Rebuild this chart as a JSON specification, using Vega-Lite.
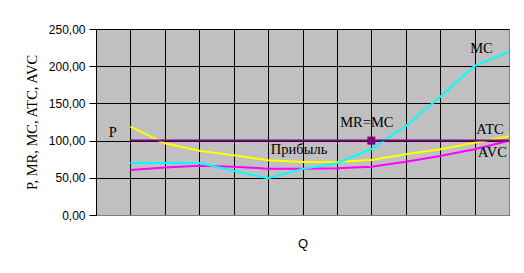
{
  "$schema": "https://vega.github.io/schema/vega-lite/v6.json",
  "width": 413,
  "height": 186,
  "autosize": "none",
  "padding": {"left": 96, "top": 29, "right": 15, "bottom": 58},
  "background": "white",
  "config": {
    "view": {"fill": "#C0C0C0", "stroke": "#808080", "strokeWidth": 1}
  },
  "datasets": {
    "curves": [
      {"q": 1, "series": "ATC", "value": 118.7}, {"q": 2, "series": "ATC", "value": 96.3}, {"q": 3, "series": "ATC", "value": 86.5}, {"q": 4, "series": "ATC", "value": 80.2}, {"q": 5, "series": "ATC", "value": 73.5}, {"q": 6, "series": "ATC", "value": 71.2}, {"q": 7, "series": "ATC", "value": 71.2}, {"q": 8, "series": "ATC", "value": 73.9}, {"q": 9, "series": "ATC", "value": 81.6}, {"q": 10, "series": "ATC", "value": 88.3}, {"q": 11, "series": "ATC", "value": 97.2}, {"q": 12, "series": "ATC", "value": 106},
      {"q": 1, "series": "AVC", "value": 60.5}, {"q": 2, "series": "AVC", "value": 64}, {"q": 3, "series": "AVC", "value": 66.3}, {"q": 4, "series": "AVC", "value": 65}, {"q": 5, "series": "AVC", "value": 62.2}, {"q": 6, "series": "AVC", "value": 62}, {"q": 7, "series": "AVC", "value": 62.7}, {"q": 8, "series": "AVC", "value": 65}, {"q": 9, "series": "AVC", "value": 71.7}, {"q": 10, "series": "AVC", "value": 79.3}, {"q": 11, "series": "AVC", "value": 88.3}, {"q": 12, "series": "AVC", "value": 100},
      {"q": 1, "series": "MC", "value": 70}, {"q": 2, "series": "MC", "value": 70}, {"q": 3, "series": "MC", "value": 70}, {"q": 4, "series": "MC", "value": 59.5}, {"q": 5, "series": "MC", "value": 49.3}, {"q": 6, "series": "MC", "value": 61.8}, {"q": 7, "series": "MC", "value": 69.5}, {"q": 8, "series": "MC", "value": 88.7}, {"q": 9, "series": "MC", "value": 119.6}, {"q": 10, "series": "MC", "value": 159}, {"q": 11, "series": "MC", "value": 200.3}, {"q": 12, "series": "MC", "value": 219.5},
      {"q": 1, "series": "P", "value": 100}, {"q": 2, "series": "P", "value": 100}, {"q": 3, "series": "P", "value": 100}, {"q": 4, "series": "P", "value": 100}, {"q": 5, "series": "P", "value": 100}, {"q": 6, "series": "P", "value": 100}, {"q": 7, "series": "P", "value": 100}, {"q": 8, "series": "P", "value": 100}, {"q": 9, "series": "P", "value": 100}, {"q": 10, "series": "P", "value": 100}, {"q": 11, "series": "P", "value": 100}, {"q": 12, "series": "P", "value": 100}
    ],
    "marker": [{"q": 8, "value": 100}],
    "labels": [
      {"text": "P", "q": 0.49, "value": 110.2},
      {"text": "Прибыль", "q": 5.9, "value": 87.4},
      {"text": "MR=MC", "q": 7.87, "value": 124},
      {"text": "MC", "q": 11.2, "value": 222.7},
      {"text": "ATC", "q": 11.45, "value": 114.2},
      {"text": "AVC", "q": 11.52, "value": 82.9}
    ]
  },
  "encoding": {
    "x": {
      "field": "q", "type": "quantitative",
      "scale": {"domain": [0, 12], "nice": false, "zero": false},
      "axis": {
        "title": "Q", "titleFont": "Liberation Sans", "titleFontSize": 13, "titleFontWeight": "normal", "titleColor": "black", "titlePadding": 22,
        "labels": false, "ticks": false, "domainColor": "#808080",
        "grid": true, "gridColor": "black", "gridOpacity": 1, "gridWidth": 1,
        "values": [1, 2, 3, 4, 5, 6, 7, 8, 9, 10, 11]
      }
    },
    "y": {
      "field": "value", "type": "quantitative",
      "scale": {"domain": [0, 250], "nice": false},
      "axis": {
        "title": "P, MR, MC, ATC, AVC", "titleFont": "Liberation Serif", "titleFontSize": 14.5, "titleFontWeight": "normal", "titleColor": "black",
        "titleX": -64, "titleY": 93, "titleBaseline": "middle", "titleAngle": -90,
        "values": [0, 50, 100, 150, 200, 250],
        "labelExpr": "replace(format(datum.value, '.2f'), '.', ',')",
        "labelFont": "Liberation Sans", "labelFontSize": 12, "labelColor": "black", "labelPadding": 4,
        "tickColor": "black", "tickSize": 7, "domainColor": "black",
        "grid": true, "gridColor": "black", "gridOpacity": 1, "gridWidth": 1
      }
    }
  },
  "layer": [
    {
      "data": {"name": "curves"},
      "mark": {"type": "line", "strokeWidth": 2, "clip": true},
      "encoding": {
        "color": {
          "field": "series", "type": "nominal",
          "scale": {"domain": ["AVC", "ATC", "MC", "P"], "range": ["#FF00FF", "#FFFF00", "#00FFFF", "#800080"]},
          "legend": null
        },
        "order": {"field": "q"}
      }
    },
    {
      "data": {"name": "marker"},
      "mark": {"type": "point", "shape": "square", "filled": true, "size": 64, "color": "#800080", "opacity": 1}
    },
    {
      "data": {"name": "labels"},
      "mark": {"type": "text", "font": "Liberation Serif", "fontSize": 14.5, "color": "black", "align": "center", "baseline": "middle"},
      "encoding": {"text": {"field": "text"}}
    }
  ]
}
